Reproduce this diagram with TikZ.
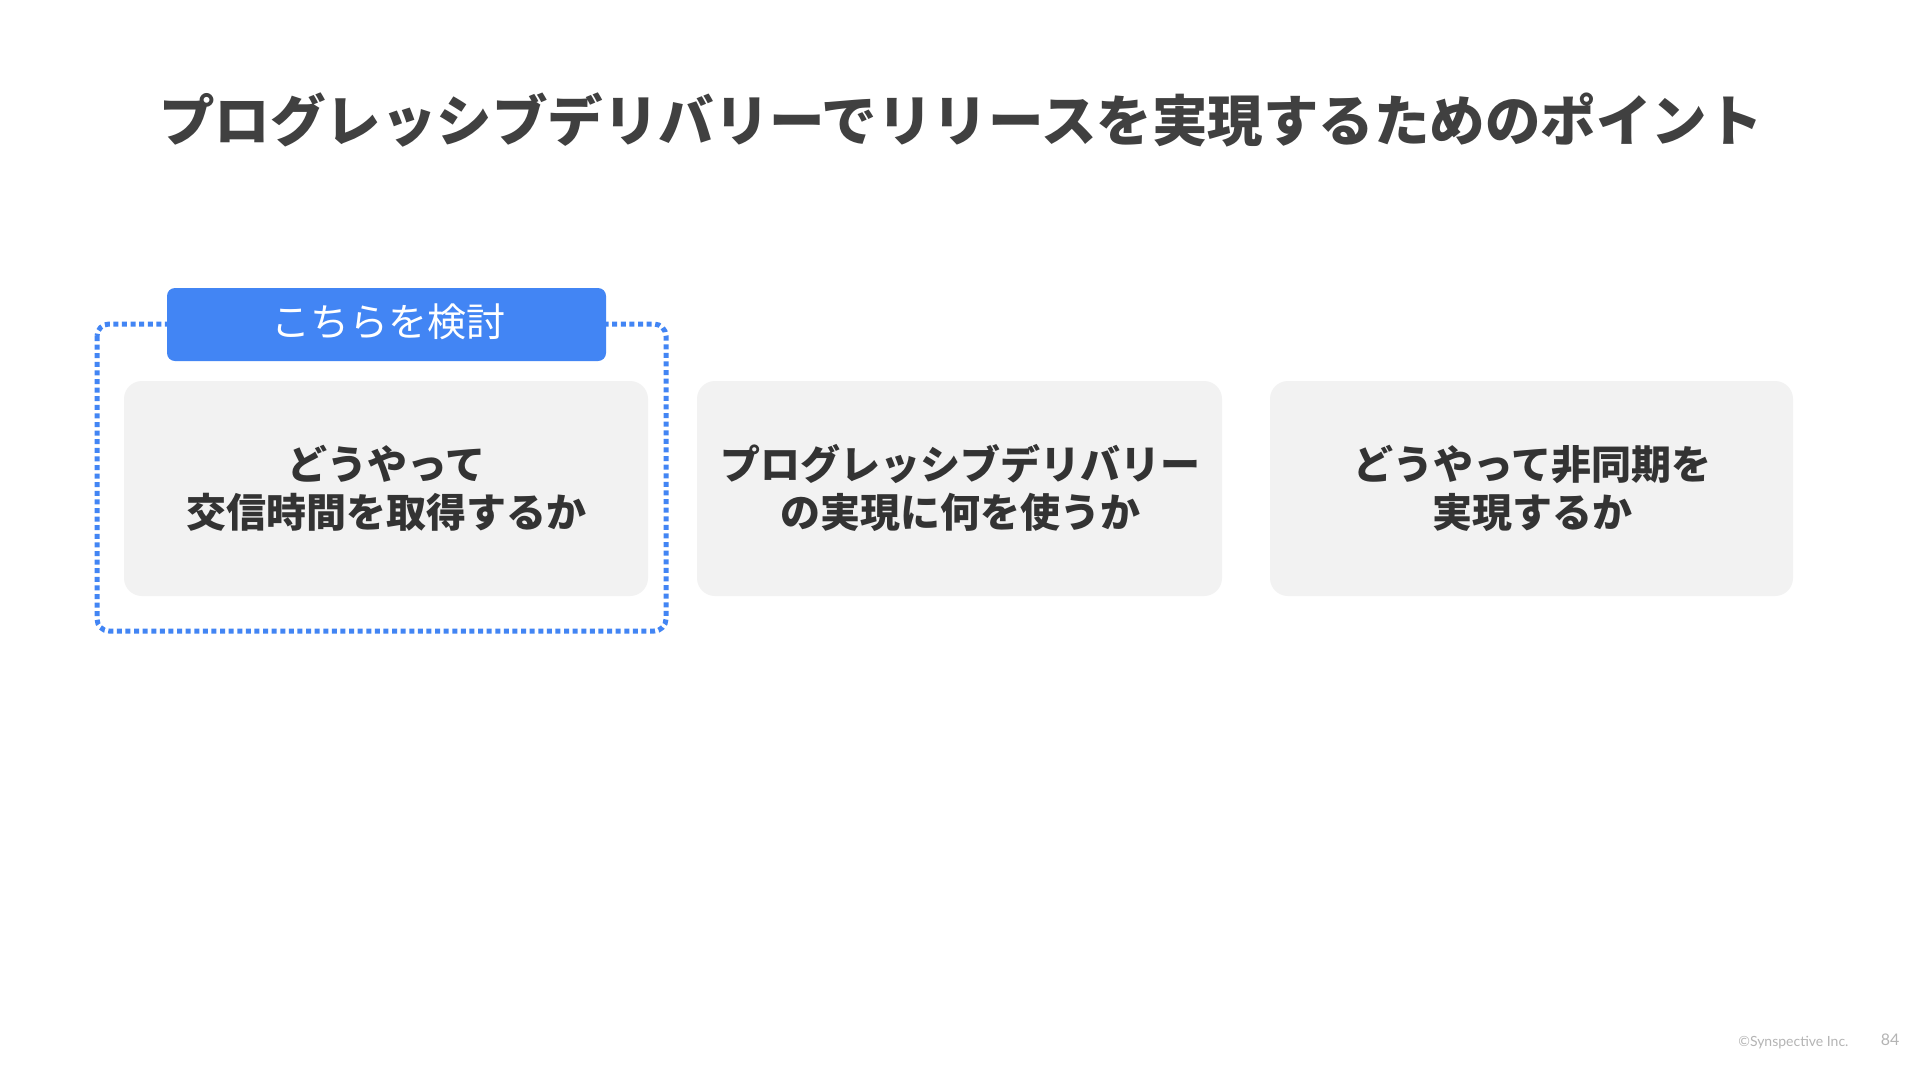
\documentclass[tikz,border=0pt]{standalone}
\usepackage{fontspec}
\setmainfont{Noto Sans CJK JP}
\newfontfamily\jp{Noto Sans CJK JP}
\newfontfamily\footfont{Lato}
\definecolor{gblue}{HTML}{4285F4}
\definecolor{boxgray}{HTML}{F2F2F2}
\definecolor{txtdark}{HTML}{333333}
\definecolor{titlegray}{HTML}{404040}
\definecolor{footgray}{HTML}{B4B4B4}
\tikzset{
  card/.style={fill=boxgray, draw=none, rounded corners=18pt},
  cardtext/.style={text=txtdark, align=center, font=\jp\bfseries\fontsize{40}{48}\selectfont},
  tagbox/.style={fill=gblue, draw=none, rounded corners=8pt},
  frame/.style={draw=gblue, line width=5pt, dash pattern=on 5pt off 3.6pt, rounded corners=12pt}
}
\begin{document}
\begin{tikzpicture}[x=1pt,y=-1pt]
\useasboundingbox (0,0) rectangle (1920,1080);
\fill[white] (0,0) rectangle (1920,1080);
% title
\node[text=titlegray, font=\jp\bfseries\fontsize{55.5}{60}\selectfont] (title) at (961,120) {プログレッシブデリバリーでリリースを実現するためのポイント};
% dotted frame
\draw[frame] (97,324) rectangle (666,631);
% cards
\fill[card] (124,381) rectangle (648,596);
\fill[card] (697,381) rectangle (1222,596);
\fill[card] (1270,381) rectangle (1793,596);
\node[cardtext] (t1) at (386,488) {どうやって\\交信時間を取得するか};
\node[cardtext] (t2) at (960,488) {プログレッシブデリバリー\\の実現に何を使うか};
\node[cardtext] (t3) at (1532,488) {どうやって非同期を\\実現するか};
% tag
\fill[tagbox] (167,288) rectangle (606,361);
\node[text=white, font=\jp\fontsize{39}{44}\selectfont] (tag) at (388,322) {こちらを検討};
% footer
\node[text=footgray, font=\footfont\fontsize{14}{16}\selectfont, anchor=east] (copy) at (1852,1043) {©Synspective Inc.};
\node[text=footgray, font=\footfont\fontsize{16}{18}\selectfont, anchor=east] (page) at (1903,1040) {84};
\end{tikzpicture}
\end{document}
